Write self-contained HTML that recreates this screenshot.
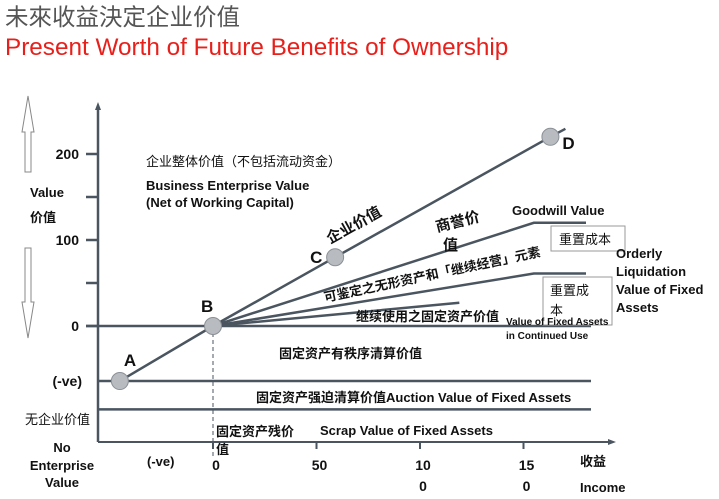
<!DOCTYPE html>
<html><head><meta charset="utf-8"><style>
body{margin:0;background:#fff;width:719px;height:499px;overflow:hidden;font-family:"Liberation Sans","Noto Sans CJK SC",sans-serif}
svg{position:absolute;left:0;top:0}
text{font-family:"Liberation Sans","Noto Sans CJK SC",sans-serif;fill:#111}
.b{font-weight:bold}
</style></head><body>
<svg id="chart" width="719" height="499" viewBox="0 0 719 499">
<text x="5" y="25" font-size="23.5" style="fill:#555">未來收益決定企业价值</text>
<text x="5" y="55" font-size="24.3" style="fill:#e8201c">Present Worth of Future Benefits of Ownership</text>
<g id="axes"></g>
<g id="marks"></g>
<path d="M28,96 L22,132 L25,132 L25,172 L31,172 L31,132 L34,132 Z" fill="#fff" stroke="#888" stroke-width="1"/>
<path d="M28,338 L22,302 L25,302 L25,248 L31,248 L31,302 L34,302 Z" fill="#fff" stroke="#888" stroke-width="1"/>
<text class="b" x="30" y="197" font-size="13">Value</text>
<text class="b" x="30" y="222" font-size="13">价值</text>
<text x="25" y="424" font-size="13">无企业价值</text>
<text class="b" x="62" y="452" font-size="13" text-anchor="middle">No</text>
<text class="b" x="62" y="470" font-size="13" text-anchor="middle">Enterprise</text>
<text class="b" x="62" y="487" font-size="13" text-anchor="middle">Value</text>
<text x="146" y="166" font-size="13">企业整体价值（不包括流动资金）</text>
<text class="b" x="146" y="190" font-size="13">Business Enterprise Value</text>
<text class="b" x="146" y="207" font-size="13">(Net of Working Capital)</text>
<text class="b" font-size="15" transform="translate(330,244) rotate(-29)">企业价值</text>
<text class="b" font-size="15" transform="translate(437,232) rotate(-14)">商誉价</text>
<text class="b" font-size="15" x="443" y="250">值</text>
<text class="b" x="512" y="215" font-size="13">Goodwill Value</text>
<text font-size="13" transform="translate(325,302) rotate(-12)" class="b">可鉴定之无形资产和「继续经营」元素</text>
<text class="b" x="356" y="321" font-size="13">继续使用之固定资产价值</text>
<rect x="551" y="226" width="74" height="25" fill="#fff" stroke="#999"/>
<text x="559" y="244" font-size="13">重置成本</text>
<rect x="543" y="277" width="69" height="48" fill="#fff" stroke="#999"/>
<text x="550" y="295" font-size="13">重置成</text>
<text x="550" y="315" font-size="13">本</text>
<text class="b" x="506" y="325" font-size="10">Value of Fixed Assets</text>
<text class="b" x="506" y="339" font-size="10">in Continued Use</text>
<text class="b" x="616" y="258" font-size="13">Orderly</text>
<text class="b" x="616" y="276" font-size="13">Liquidation</text>
<text class="b" x="616" y="294" font-size="13">Value of Fixed</text>
<text class="b" x="616" y="312" font-size="13">Assets</text>
<text x="279" y="358" font-size="13" class="b">固定资产有秩序清算价值</text>
<text class="b" x="256" y="402" font-size="13">固定资产强迫清算价值Auction Value of Fixed Assets</text>
<text class="b" x="216" y="436" font-size="13">固定资产残价</text>
<text class="b" x="216" y="454" font-size="13">值</text>
<text class="b" x="320" y="435" font-size="13">Scrap Value of Fixed Assets</text>
<text class="b" x="147" y="466" font-size="13">(-ve)</text>
<text class="b" x="580" y="466" font-size="13">收益</text>
<text class="b" x="580" y="492" font-size="13">Income</text>
</svg>
<script>
const pointLabels=["A","B","C","D"];
const pointIncome=[-45,0,59,163];
const pointValue=[-64,0,80,220];
const yTicks=[0,50,100,150,200];
const yTickLabels=["0","","100","","200"];
const xTicks=[0,50,100,150];
const xTickLabels=[["0",""],["50",""],["10","0"],["15","0"]];
const levelValues=[0,-64,-97];
const fanEndIncome=[155,155,119];
const fanEndValue=[120,61,27];
const X=v=>213+v*2.07;
const Y=v=>326-v*0.86;
const NS="http://www.w3.org/2000/svg";
function mk(tag,attrs,parent){const e=document.createElementNS(NS,tag);for(const k in attrs)e.setAttribute(k,attrs[k]);parent.appendChild(e);return e;}
const axes=document.getElementById('axes'),marks=document.getElementById('marks');
const C="#4a5560";
let el=mk('line',{x1:98,y1:442,x2:98,y2:108,stroke:C,'stroke-width':2.5},axes);


mk('path',{d:'M95,110 L98,102 L101,110 Z',fill:C},axes);
yTicks.forEach((t,i)=>{
 const l=mk('line',{x1:86,x2:98,y1:Y(t),y2:Y(t),stroke:C,'stroke-width':2.5},axes);
 
 
 if(yTickLabels[i]){const tx=mk('text',{x:79,y:Y(t)+5,'font-size':14,'text-anchor':'end','class':'b'},axes);tx.textContent=yTickLabels[i];
 
 }
});
let neg=mk('text',{x:82,y:Y(-64)+5,'font-size':14,'text-anchor':'end','class':'b'},axes);neg.textContent="(-ve)";


el=mk('line',{x1:98,y1:442,x2:612,y2:442,stroke:C,'stroke-width':2},axes);


mk('path',{d:'M608,439 L616,442 L608,445 Z',fill:C},axes);
xTicks.forEach((t,i)=>{
 const l=mk('line',{x1:X(t),x2:X(t),y1:442,y2:449,stroke:C,'stroke-width':2},axes);
 
 
 xTickLabels[i].forEach((s,j)=>{if(!s)return;const tx=mk('text',{x:X(t)+3,y:470+j*21,'font-size':14,'text-anchor':'middle','class':'b'},axes);tx.textContent=s;
 
 });
});
levelValues.forEach((v,i)=>{
 const l=mk('line',{x1:i==0?86:98,x2:591,y1:Y(v),y2:Y(v),stroke:C,'stroke-width':2.5},marks);
 
 
});
el=mk('line',{x1:X(0),x2:X(0),y1:Y(0),y2:458,stroke:C,'stroke-width':1,'stroke-dasharray':'4,3'},marks);


fanEndIncome.forEach((inc,i)=>{
 const p=mk('polyline',{points:`${X(0)},${Y(0)} ${X(inc)},${Y(fanEndValue[i])}`+(i<2?` ${586},${Y(fanEndValue[i])}`:''),fill:'none',stroke:C,'stroke-width':2.5},marks);
 
 
});
let pts=pointIncome.map((v,i)=>X(v)+','+Y(pointValue[i])).join(' ');
const lx=X(pointIncome[3])+15,ly=Y(pointValue[3])-8;
el=mk('polyline',{points:pts+' '+lx+','+ly,fill:'none',stroke:C,'stroke-width':2.5},marks);


const offs=[[4,-15],[-12,-14],[-25,6],[12,12]];
pointIncome.forEach((v,i)=>{
 const c=mk('circle',{cx:X(v),cy:Y(pointValue[i]),r:8.5,fill:'#b8bcc0',stroke:'#8a9096','stroke-width':1},marks);
 
 
 const t=mk('text',{x:X(v)+offs[i][0],y:Y(pointValue[i])+offs[i][1],'font-size':17,'class':'b'},marks);
 t.textContent=pointLabels[i];
 
 
});
</script>
</body></html>
